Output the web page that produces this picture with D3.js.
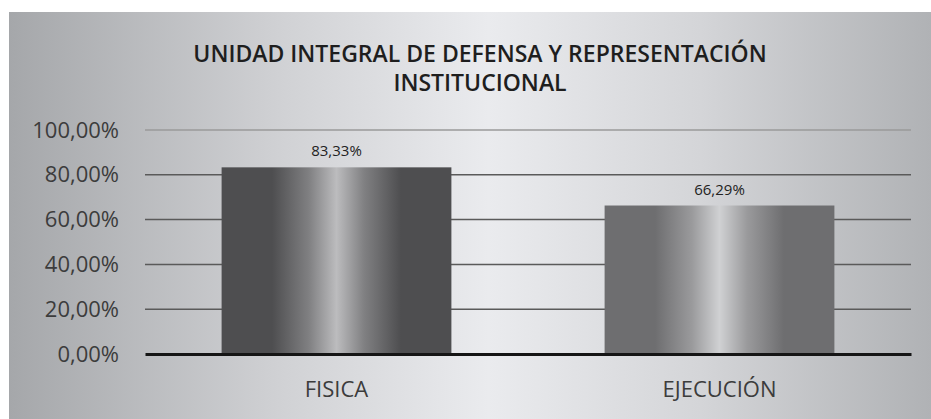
<!DOCTYPE html>
<html>
<head>
<meta charset="utf-8">
<script src="https://cdn.jsdelivr.net/npm/d3@7"></script>
<style>
  body { margin: 0; background: #fff; }
  svg text { font-family: "Open Sans", "Noto Sans", sans-serif; }
</style>
</head>
<body>
<div id="chart"></div>
<script>
// data
var categories = ['FISICA', 'EJECUCIÓN'];
var values = [0.8333, 0.6629];
var yTicks = [0, 0.2, 0.4, 0.6, 0.8, 1.0];
var titleLines = ['UNIDAD INTEGRAL DE DEFENSA Y REPRESENTACIÓN', 'INSTITUCIONAL'];

var width = 931, height = 419;
var margin = { top: 130, right: 20, bottom: 65, left: 145 };

var svg = d3.select('#chart')
            .append('svg')
            .attr('width', width)
            .attr('height', height);

var defs = svg.append('defs');

// background gradient: darker at the sides, light in the middle
var bg = defs.append('linearGradient').attr('id', 'bg');
[['0%', '#a5a7aa'], ['30%', '#d1d2d5'], ['52%', '#eaebee'], ['75%', '#d4d5d8'], ['100%', '#b0b2b5']]
    .forEach(function (s) {
        bg.append('stop').attr('offset', s[0]).attr('stop-color', s[1]);
    });

// bar gradients (dark edges, light centre stripe)
function barGrad(id, edge, mid, light) {
    var g = defs.append('linearGradient').attr('id', id);
    [['0%', edge], ['22%', edge], ['38%', mid], ['50%', light], ['62%', mid], ['78%', edge], ['100%', edge]]
        .forEach(function (s) {
            g.append('stop').attr('offset', s[0]).attr('stop-color', s[1]);
        });
}
barGrad('bar0', '#4e4e50', '#808082', '#bcbcbe');
barGrad('bar1', '#6e6e70', '#9a9a9c', '#d0d1d3');

svg.append('rect')
    .attr('x', 9).attr('y', 12)
    .attr('width', width - 9).attr('height', height - 12)
    .attr('fill', 'url(#bg)');

var x = d3.scaleBand()
          .domain(categories)
          .range([margin.left, width - margin.right])
          .paddingInner(0.4)
          .paddingOuter(0.2);

var y = d3.scaleLinear()
          .domain([0, 1])
          .range([height - margin.bottom, margin.top]);

var fmt = function (v) {
    return d3.format('.2f')(v * 100).replace('.', ',') + '%';
};

// gridlines
svg.append('g')
    .selectAll('line')
    .data(yTicks.slice(1))
    .enter().append('line')
    .attr('x1', margin.left)
    .attr('x2', width - margin.right)
    .attr('y1', function (d) { return y(d); })
    .attr('y2', function (d) { return y(d); })
    .attr('stroke', function (d) { return d === 1 ? '#9a9a9a' : '#5a5a5a'; })
    .attr('stroke-width', 1.5);

// y axis labels
var yAxis = d3.axisLeft(y)
              .tickValues(yTicks)
              .tickFormat(fmt)
              .tickSize(0)
              .tickPadding(26);

svg.append('g')
    .attr('transform', 'translate(' + margin.left + ',0)')
    .call(yAxis)
    .call(function (g) { g.select('.domain').remove(); })
    .selectAll('text')
    .attr('fill', '#3c3c3c')
    .style('font-size', '22px');

// bars
svg.append('g')
    .selectAll('rect')
    .data(values)
    .enter().append('rect')
    .attr('x', function (d, i) { return x(categories[i]); })
    .attr('y', function (d) { return y(d); })
    .attr('width', x.bandwidth())
    .attr('height', function (d) { return y(0) - y(d); })
    .attr('fill', function (d, i) { return 'url(#bar' + i + ')'; });

// value labels
svg.append('g')
    .selectAll('text')
    .data(values)
    .enter().append('text')
    .attr('x', function (d, i) { return x(categories[i]) + x.bandwidth() / 2; })
    .attr('y', function (d) { return y(d) - 11; })
    .attr('text-anchor', 'middle')
    .attr('fill', '#222')
    .style('font-size', '15px')
    .text(fmt);

// x axis line + category labels
var xAxis = d3.axisBottom(x).tickSize(0).tickPadding(27);

var xg = svg.append('g')
    .attr('transform', 'translate(0,' + y(0) + ')')
    .call(xAxis);

xg.select('.domain')
    .attr('stroke', '#151515')
    .attr('stroke-width', 3);

xg.selectAll('text')
    .attr('fill', '#3c3c3c')
    .style('font-size', '22px');

// title
svg.append('g')
    .selectAll('text')
    .data(titleLines)
    .enter().append('text')
    .attr('x', 480)
    .attr('y', function (d, i) { return 62 + i * 29; })
    .attr('text-anchor', 'middle')
    .attr('fill', '#1e1e1e')
    .style('font-size', '23px')
    .style('font-weight', 600)
    .text(function (d) { return d; });
</script>
</body>
</html>
